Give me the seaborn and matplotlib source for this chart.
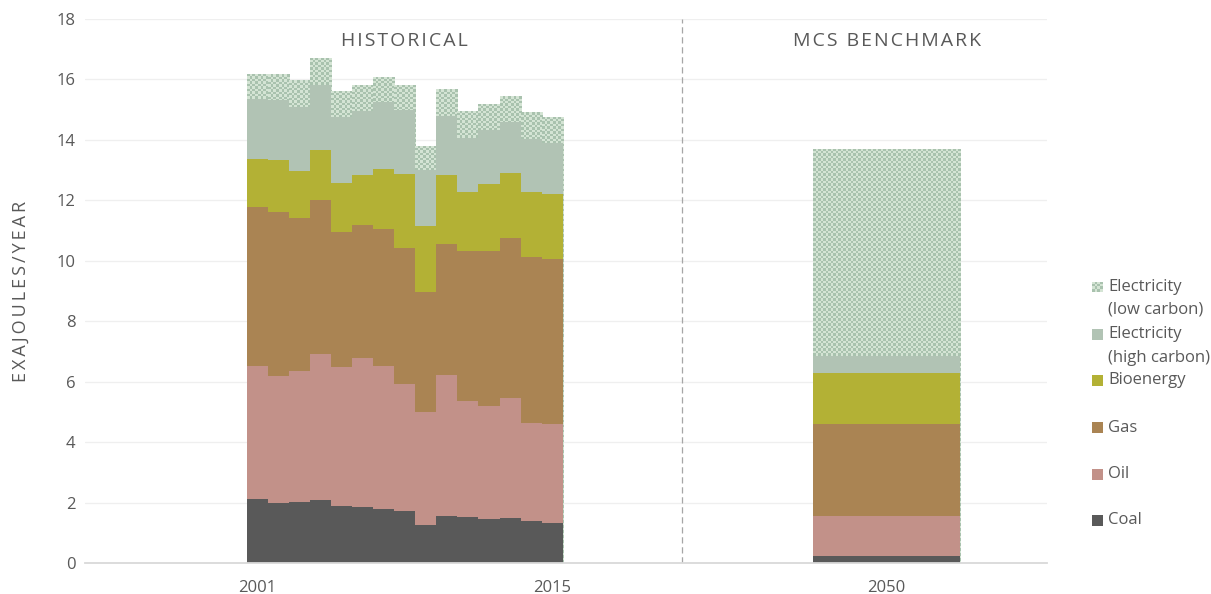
import numpy as np
import pandas as pd
import matplotlib
matplotlib.use("Agg")
import matplotlib.pyplot as plt
from matplotlib.colors import ListedColormap
import seaborn as sns

# ---- data (EJ/year) ----
years = list(range(2001, 2016))
coal = [2.12, 1.99, 2.01, 2.08, 1.88, 1.85, 1.78, 1.73, 1.27, 1.55, 1.53, 1.47, 1.49, 1.40, 1.31]
oil = [4.39, 4.20, 4.34, 4.83, 4.61, 4.93, 4.73, 4.19, 3.72, 4.68, 3.82, 3.73, 3.96, 3.23, 3.29]
gas = [5.26, 5.41, 5.05, 5.10, 4.47, 4.39, 4.53, 4.49, 3.99, 4.31, 4.99, 5.11, 5.29, 5.51, 5.47]
bioenergy = [1.60, 1.74, 1.58, 1.67, 1.61, 1.66, 2.01, 2.45, 2.18, 2.29, 1.92, 2.22, 2.16, 2.13, 2.13]
elec_high = [1.99, 1.99, 2.12, 2.15, 2.18, 2.12, 2.19, 2.12, 1.83, 1.97, 1.81, 1.81, 1.70, 1.77, 1.71]
elec_low = [0.82, 0.84, 0.87, 0.89, 0.87, 0.88, 0.85, 0.85, 0.82, 0.87, 0.89, 0.86, 0.85, 0.88, 0.85]

benchmark_year = 2050
bench_coal = 0.23
bench_oil = 1.33
bench_gas = 3.04
bench_bioenergy = 1.69
bench_elec_high = 0.57
bench_elec_low = 6.84

sources = ["Coal", "Oil", "Gas", "Bioenergy",
           "Electricity (high carbon)", "Electricity (low carbon)"]
legend_labels = ["Coal", "Oil", "Gas", "Bioenergy",
                 "Electricity\n(high carbon)", "Electricity\n(low carbon)"]
tick_years = ["2001", "2015", "2050"]
panel_titles = ["HISTORICAL", "MCS BENCHMARK"]
y_title = "EXAJOULES/YEAR"

palette = {
    "Coal": "#595959",
    "Oil": "#c29189",
    "Gas": "#aa8453",
    "Bioenergy": "#b3b135",
    "Electricity (high carbon)": "#b1c3b4",
    "Electricity (low carbon)": "#d4e4d4",
}
checker_dark = "#a9c2ae"
checker_cmap = ListedColormap([palette["Electricity (low carbon)"], checker_dark])
CHECKER_PX = 2.5  # size of one checker cell, in pixels

# ---- layout in bar-width units (historical years are contiguous) ----
bench_pos = 29.87
bench_width = 7.0
divider_pos = 20.18
x_left, x_right = -8.17, 37.48

hist_series = [coal, oil, gas, bioenergy, elec_high, elec_low]
bench_series = [bench_coal, bench_oil, bench_gas, bench_bioenergy,
                bench_elec_high, bench_elec_low]

rows = []
for src, vals in zip(sources, hist_series):
    for i, v in enumerate(vals):
        rows.append(dict(period="hist", pos=i, label=str(years[i]), source=src, value=v))
for src, v in zip(sources, bench_series):
    rows.append(dict(period="bench", pos=bench_pos, label=str(benchmark_year), source=src, value=v))
df = pd.DataFrame(rows)
df["source"] = pd.Categorical(df["source"], categories=sources, ordered=True)
df = df.sort_values(["pos", "source"])
df["top"] = df.groupby("pos")["value"].cumsum()

# ---- style ----
sns.set_theme(style="white")
plt.rcParams["font.family"] = ["Open Sans", "DejaVu Sans"]
text_gray = "#595959"

fig = plt.figure(figsize=(12.11, 5.94), dpi=100)
W, H = 1211, 594
ax = fig.add_axes([85 / W, (H - 563) / H, (1047 - 85) / W, (563 - 19) / H])


def checkerboard(nx, ny):
    ix, iy = np.meshgrid(np.arange(max(nx, 1)), np.arange(max(ny, 1)))
    return (ix + iy) % 2


# stacked bars: draw cumulative tops from the uppermost layer down
low_patches = []
for src in reversed(sources):
    sub = df[df["source"] == src]
    for period, width in (("hist", 1.0), ("bench", bench_width)):
        part = sub[sub["period"] == period]
        n_before = len(ax.patches)
        sns.barplot(data=part, x="pos", y="top", native_scale=True, orient="x",
                    width=width, color=palette[src], saturation=1,
                    errorbar=None, linewidth=0, ax=ax)
        if src == "Electricity (low carbon)":
            low_patches.extend(ax.patches[n_before:])

ax.set_xlim(x_left, x_right)
ax.set_ylim(0, 18)

# fill the low-carbon electricity layer with a fine checker texture
px_per_x = ax.bbox.width / (x_right - x_left)
px_per_y = ax.bbox.height / 18.0
for p in low_patches:
    x0, y0 = p.get_x(), p.get_y()
    w, h = p.get_width(), p.get_height()
    nx = int(round(w * px_per_x / CHECKER_PX))
    ny = int(round(h * px_per_y / CHECKER_PX))
    im = ax.imshow(checkerboard(nx, ny), cmap=checker_cmap, vmin=0, vmax=1,
                   extent=(x0, x0 + w, y0, y0 + h), origin="lower",
                   interpolation="nearest", aspect="auto", zorder=0.9)
    im.set_clip_path(p)
    p.set_facecolor("none")

ax.set_xlim(x_left, x_right)
ax.set_ylim(0, 18)
ax.set_yticks(np.arange(0, 19, 2))
ax.set_yticklabels([str(v) for v in range(0, 19, 2)])
ax.set_xticks([0, len(years) - 1, bench_pos])
ax.set_xticklabels(tick_years)
ax.tick_params(axis="both", length=0, colors=text_gray, labelsize=12)
ax.tick_params(axis="x", pad=12)
ax.tick_params(axis="y", pad=7)
ax.set_xlabel("")

ax.set_axisbelow(True)
ax.yaxis.grid(True, color="#efefef", linewidth=0.9)
ax.xaxis.grid(False)
for side in ("left", "right", "top"):
    ax.spines[side].set_visible(False)
ax.spines["bottom"].set_color("#d9d9d9")
ax.spines["bottom"].set_linewidth(1.3)

# divider between periods
ax.axvline(divider_pos, color="#a6a6a6", linewidth=0.9, linestyle=(0, (5, 3)))

# panel titles
spaced = lambda s, sp: sp.join(s)
ax.text((len(years) - 1) / 2, 0.96, spaced(panel_titles[0], "\u200a"),
        transform=ax.get_xaxis_transform(), ha="center", va="center",
        fontsize=14, color=text_gray)
ax.text(bench_pos, 0.96, spaced(panel_titles[1], "\u200a"),
        transform=ax.get_xaxis_transform(), ha="center", va="center",
        fontsize=14, color=text_gray)

ax.set_ylabel(spaced(y_title, "\u2009"), fontsize=13, color=text_gray, va="center")
ax.yaxis.set_label_coords((21 - 85) / (1047 - 85), 0.5)

# legend (top entry first)
legend_rows = [287, 334.5, 380, 427.5, 474, 520]
for src, lab, yc in zip(reversed(sources), reversed(legend_labels), legend_rows):
    sw = fig.add_axes([1092 / W, (H - yc - 5.5) / H, 11 / W, 11 / H])
    sw.set_axis_off()
    if src == "Electricity (low carbon)":
        sw.imshow(checkerboard(4, 4), cmap=checker_cmap, vmin=0, vmax=1,
                  interpolation="nearest", aspect="auto")
    else:
        sw.add_patch(plt.Rectangle((0, 0), 1, 1, facecolor=palette[src],
                                   edgecolor="none", transform=sw.transAxes))
    for k, line in enumerate(lab.split("\n")):
        fig.text(1108 / W, (H - (yc + 23 * k)) / H, line, ha="left", va="center",
                 fontsize=12, color=text_gray)

fig.savefig("out.png", dpi=100)
